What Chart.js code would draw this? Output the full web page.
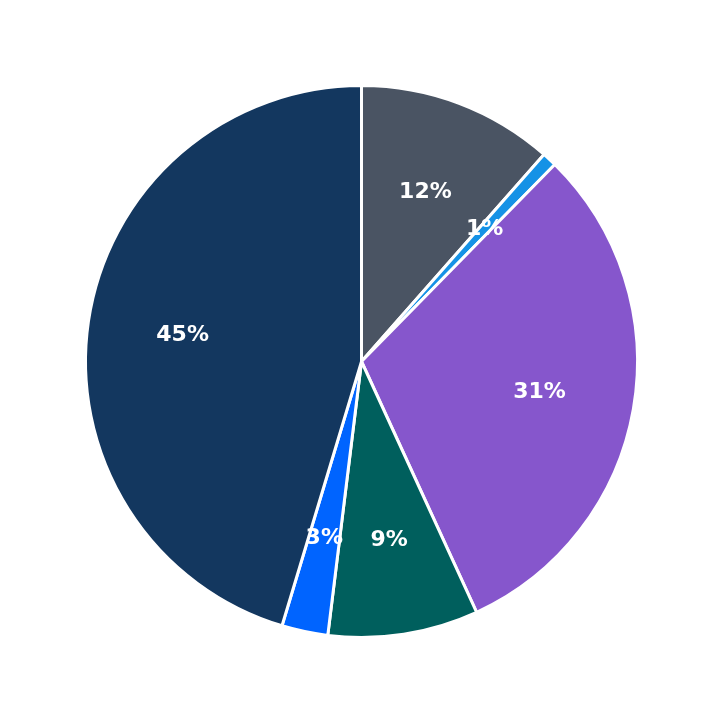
<!DOCTYPE html>
<html>
<head>
<meta charset="utf-8">
<script src="https://cdn.jsdelivr.net/npm/chart.js@4/dist/chart.umd.min.js"></script>
<style>
  html, body { margin: 0; padding: 0; background: #ffffff; }
  #wrap { width: 723px; height: 723px; }
</style>
</head>
<body>
<div id="wrap"><canvas id="grafico"></canvas></div>
<script>
// ========================
// DADOS
// ========================

const categorias = ["A", "B", "C", "D", "E", "F"];
const valores = [11.5, 0.85, 30.8, 8.8, 2.7, 45.35];
const cores = ["#4a5463", "#1592e6", "#8656cc", "#005f5d", "#0064ff", "#13375f"];

// ========================
// RÓTULOS
// ========================

const rotulosPlugin = {
  id: "rotulos",
  afterDatasetsDraw(chart) {
    const ctx = chart.ctx;
    const meta = chart.getDatasetMeta(0);
    const total = valores.reduce((t, v) => t + v, 0);

    ctx.save();
    ctx.font = "bold 22px 'DejaVu Sans'";
    ctx.fillStyle = "#ffffff";
    ctx.textAlign = "center";
    ctx.textBaseline = "middle";

    meta.data.forEach((arc, i) => {
      const p = arc.getProps(["x", "y", "startAngle", "endAngle", "outerRadius"], true);
      const meio = (p.startAngle + p.endAngle) / 2;
      const r = p.outerRadius * 0.655;
      const texto = Math.round((valores[i] * 100) / total) + "%";
      ctx.fillText(texto, p.x + Math.cos(meio) * r, p.y + Math.sin(meio) * r);
    });

    ctx.restore();
  },
};

// ========================
// GRÁFICO
// ========================

new Chart(document.getElementById("grafico"), {
  type: "pie",
  data: {
    labels: categorias,
    datasets: [
      {
        data: valores,
        backgroundColor: cores,
        borderColor: "#ffffff",
        borderWidth: 3,
      },
    ],
  },
  options: {
    responsive: true,
    maintainAspectRatio: false,
    animation: false,
    layout: { padding: 84 },
    plugins: {
      legend: { display: false },
      tooltip: { enabled: false },
    },
  },
  plugins: [rotulosPlugin],
});
</script>
</body>
</html>
